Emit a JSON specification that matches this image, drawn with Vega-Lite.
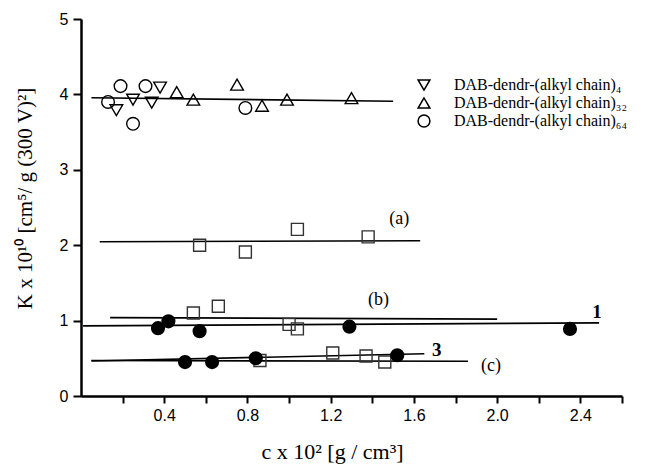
{
  "$schema": "https://vega.github.io/schema/vega-lite/v6.json",
  "width": 541,
  "height": 377,
  "autosize": "none",
  "padding": {"left": 81, "top": 19, "right": 30, "bottom": 68},
  "background": "white",
  "config": {
    "view": {"stroke": null},
    "axis": {
      "grid": false,
      "domainColor": "black",
      "domainWidth": 2.5,
      "tickColor": "black",
      "tickWidth": 2,
      "labelFont": "Liberation Sans",
      "labelFontSize": 16,
      "labelColor": "black",
      "titleFont": "Liberation Serif",
      "titleFontWeight": "normal",
      "titleFontSize": 22,
      "titleColor": "black"
    }
  },
  "datasets": {
    "lines": [
      {"x1": 0.05, "y1": 3.955, "x2": 1.50, "y2": 3.91},
      {"x1": 0.09, "y1": 2.045, "x2": 1.63, "y2": 2.06},
      {"x1": 0.14, "y1": 1.04, "x2": 2.00, "y2": 1.02},
      {"x1": 0.01, "y1": 0.93, "x2": 2.49, "y2": 0.97},
      {"x1": 0.05, "y1": 0.465, "x2": 1.65, "y2": 0.56},
      {"x1": 0.05, "y1": 0.47, "x2": 1.86, "y2": 0.46}
    ],
    "pts": [
      {"s": "DAB-dendr-(alkyl chain)₄", "x": 0.17, "y": 3.79},
      {"s": "DAB-dendr-(alkyl chain)₄", "x": 0.25, "y": 3.93},
      {"s": "DAB-dendr-(alkyl chain)₄", "x": 0.34, "y": 3.89},
      {"s": "DAB-dendr-(alkyl chain)₄", "x": 0.38, "y": 4.09},
      {"s": "DAB-dendr-(alkyl chain)₃₂", "x": 0.46, "y": 4.03},
      {"s": "DAB-dendr-(alkyl chain)₃₂", "x": 0.54, "y": 3.93},
      {"s": "DAB-dendr-(alkyl chain)₃₂", "x": 0.75, "y": 4.13},
      {"s": "DAB-dendr-(alkyl chain)₃₂", "x": 0.87, "y": 3.85},
      {"s": "DAB-dendr-(alkyl chain)₃₂", "x": 0.99, "y": 3.93},
      {"s": "DAB-dendr-(alkyl chain)₃₂", "x": 1.30, "y": 3.95},
      {"s": "DAB-dendr-(alkyl chain)₆₄", "x": 0.13, "y": 3.90},
      {"s": "DAB-dendr-(alkyl chain)₆₄", "x": 0.19, "y": 4.11},
      {"s": "DAB-dendr-(alkyl chain)₆₄", "x": 0.25, "y": 3.61},
      {"s": "DAB-dendr-(alkyl chain)₆₄", "x": 0.31, "y": 4.11},
      {"s": "DAB-dendr-(alkyl chain)₆₄", "x": 0.79, "y": 3.82}
    ],
    "squares": [
      {"x": 0.57, "y": 2.00}, {"x": 0.79, "y": 1.91}, {"x": 1.04, "y": 2.21}, {"x": 1.38, "y": 2.11},
      {"x": 0.54, "y": 1.10}, {"x": 0.66, "y": 1.19}, {"x": 1.00, "y": 0.95}, {"x": 1.04, "y": 0.89},
      {"x": 0.86, "y": 0.47}, {"x": 1.21, "y": 0.57}, {"x": 1.37, "y": 0.53}, {"x": 1.46, "y": 0.45}
    ],
    "dots": [
      {"x": 0.37, "y": 0.90}, {"x": 0.42, "y": 0.99}, {"x": 0.57, "y": 0.86}, {"x": 1.29, "y": 0.92},
      {"x": 2.35, "y": 0.89}, {"x": 0.50, "y": 0.45}, {"x": 0.63, "y": 0.45}, {"x": 0.84, "y": 0.50},
      {"x": 1.52, "y": 0.54}
    ],
    "notes": [
      {"x": 1.53, "y": 2.35, "t": "(a)"},
      {"x": 1.43, "y": 1.27, "t": "(b)"},
      {"x": 1.97, "y": 0.40, "t": "(c)"}
    ],
    "bold": [
      {"x": 2.48, "y": 1.11, "t": "1"},
      {"x": 1.71, "y": 0.61, "t": "3"}
    ]
  },
  "layer": [
    {
      "data": {"name": "lines"},
      "mark": {"type": "rule", "color": "black", "strokeWidth": 1.6},
      "encoding": {
        "x": {
          "field": "x1", "type": "quantitative",
          "scale": {"domain": [0, 2.6], "nice": false, "zero": false},
          "axis": {
            "title": "c x 10² [g / cm³]",
            "values": [0.2, 0.4, 0.6, 0.8, 1.0, 1.2, 1.4, 1.6, 1.8, 2.0, 2.2, 2.4, 2.6],
            "format": ".1f",
            "labelExpr": "round(datum.value*10) % 4 == 0 ? datum.label : ''",
            "tickSize": 7,
            "labelPadding": 4,
            "titleX": 251,
            "titleY": 55,
            "titleAlign": "center",
            "titleBaseline": "middle"
          }
        },
        "x2": {"field": "x2"},
        "y": {
          "field": "y1", "type": "quantitative",
          "scale": {"domain": [0, 5], "nice": false, "zero": false},
          "axis": {
            "title": "K x 10¹⁰ [cm⁵/ g (300 V)²]",
            "titleFontSize": 21,
            "values": [0, 0.5, 1, 1.5, 2, 2.5, 3, 3.5, 4, 4.5, 5],
            "labelExpr": "datum.value % 1 == 0 ? format(datum.value, 'd') : ''",
            "tickSize": 8,
            "labelPadding": 5,
            "titleAngle": -90,
            "titleX": -56,
            "titleY": 179,
            "titleAlign": "center",
            "titleBaseline": "middle"
          }
        },
        "y2": {"field": "y2"}
      }
    },
    {
      "data": {"name": "pts"},
      "mark": {"type": "point", "filled": false, "stroke": "black", "strokeWidth": 1.4, "size": 160, "opacity": 1},
      "encoding": {
        "x": {"field": "x", "type": "quantitative"},
        "y": {"field": "y", "type": "quantitative"},
        "shape": {
          "field": "s", "type": "nominal",
          "scale": {
            "domain": ["DAB-dendr-(alkyl chain)₄", "DAB-dendr-(alkyl chain)₃₂", "DAB-dendr-(alkyl chain)₆₄"],
            "range": ["triangle-down", "triangle-up", "circle"]
          },
          "legend": {
            "title": null,
            "orient": "none",
            "legendX": 335,
            "legendY": 58,
            "labelFont": "Liberation Serif",
            "labelFontSize": 16,
            "labelColor": "black",
            "labelOffset": 22,
            "rowPadding": 0,
            "symbolSize": 140,
            "symbolStrokeColor": "black",
            "symbolStrokeWidth": 1.5,
            "symbolFillColor": "transparent",
            "labelLimit": 400
          }
        }
      }
    },
    {
      "data": {"name": "squares"},
      "mark": {"type": "point", "shape": "square", "filled": false, "stroke": "#333333", "strokeWidth": 1.4, "size": 144, "opacity": 1},
      "encoding": {
        "x": {"field": "x", "type": "quantitative"},
        "y": {"field": "y", "type": "quantitative"}
      }
    },
    {
      "data": {"name": "dots"},
      "mark": {"type": "point", "shape": "circle", "filled": true, "fill": "black", "size": 200, "opacity": 1},
      "encoding": {
        "x": {"field": "x", "type": "quantitative"},
        "y": {"field": "y", "type": "quantitative"}
      }
    },
    {
      "data": {"name": "notes"},
      "mark": {"type": "text", "font": "Liberation Serif", "fontSize": 18, "color": "black", "align": "center", "baseline": "middle"},
      "encoding": {
        "x": {"field": "x", "type": "quantitative"},
        "y": {"field": "y", "type": "quantitative"},
        "text": {"field": "t"}
      }
    },
    {
      "data": {"name": "bold"},
      "mark": {"type": "text", "font": "Liberation Serif", "fontSize": 19, "fontWeight": "bold", "color": "black", "align": "center", "baseline": "middle"},
      "encoding": {
        "x": {"field": "x", "type": "quantitative"},
        "y": {"field": "y", "type": "quantitative"},
        "text": {"field": "t"}
      }
    }
  ]
}
